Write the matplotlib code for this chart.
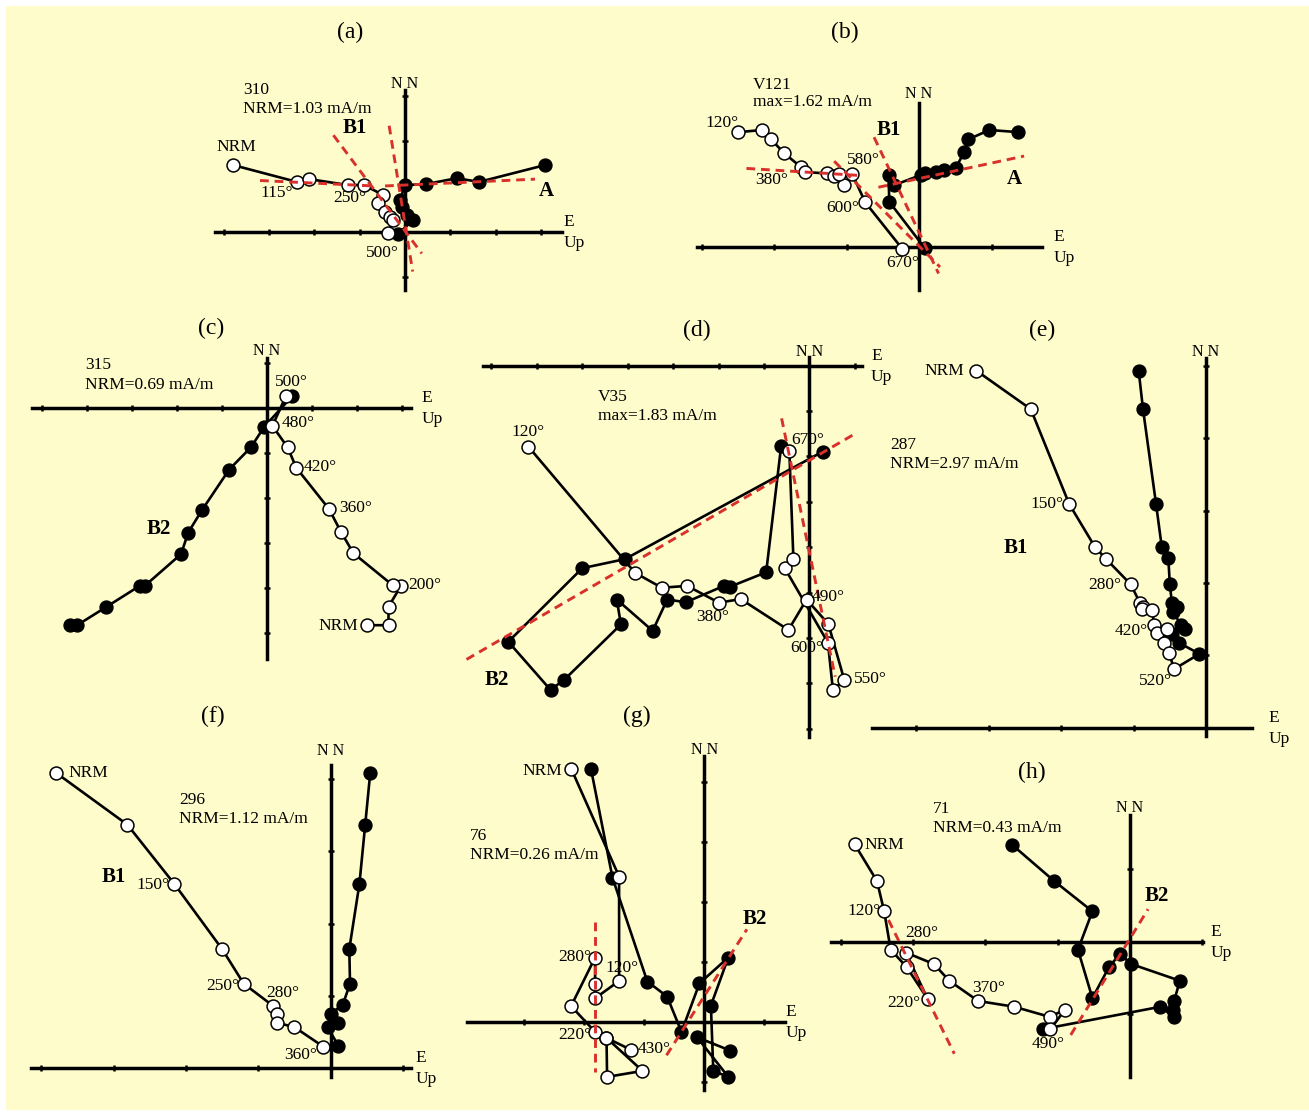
import numpy as np
import matplotlib
matplotlib.use('Agg')
import matplotlib.pyplot as plt
from matplotlib.patches import Rectangle

plt.rcParams['font.family'] = ['Liberation Serif', 'DejaVu Serif']

# --- data: Zijderveld diagrams, values in tick units (open = vertical plane, solid = horizontal plane)
a_open = np.array([(-3.79, 1.47), (-2.39, 1.10), (-2.11, 1.16), (-1.26, 1.03), (-0.91, 1.03), (-0.48, 0.81),
                   (-0.59, 0.63), (-0.44, 0.44), (-0.33, 0.33), (-0.26, 0.26), (-0.37, -0.02)])
a_solid = np.array([(3.09, 1.47), (1.64, 1.10), (1.14, 1.18), (0.46, 1.05), (0.0, 1.03), (-0.11, 0.70),
                    (-0.07, 0.55), (0.04, 0.37), (0.18, 0.26), (-0.15, -0.05)])
a_fits = [((-3.20, 1.13), (-0.70, 1.01)), ((-0.44, 1.01), (2.87, 1.16)),
          ((-1.58, 2.13), (0.37, -0.48)), ((-0.35, 2.34), (0.17, -0.88))]

b_open = np.array([(-2.49, 1.58), (-2.16, 1.61), (-2.04, 1.48), (-1.86, 1.29), (-1.63, 1.10), (-1.57, 1.03),
                   (-1.27, 1.01), (-1.17, 0.97), (-1.03, 0.85), (-1.10, 1.00), (-0.92, 1.00), (-0.74, 0.61),
                   (-0.23, -0.03)])
b_solid = np.array([(1.37, 1.58), (0.97, 1.61), (0.68, 1.48), (0.62, 1.30), (0.51, 1.09), (0.35, 1.06),
                    (0.23, 1.03), (0.08, 1.01), (0.03, 0.99), (-0.34, 0.85), (-0.42, 0.99), (-0.41, 0.62),
                    (0.08, -0.02)])
b_fits = [((-2.38, 1.08), (-0.78, 0.98)), ((-0.56, 0.82), (1.45, 1.25)),
          ((-0.62, 1.51), (0.27, -0.37)), ((-1.17, 1.18), (0.29, -0.28))]

c_open = np.array([(2.23, -4.82), (2.70, -4.82), (2.70, -4.41), (2.98, -3.94), (2.79, -3.93), (1.92, -3.22),
                   (1.64, -2.74), (1.38, -2.24), (0.65, -1.32), (0.46, -0.87), (0.12, -0.39), (0.42, 0.27)])
c_solid = np.array([(-4.38, -4.82), (-4.22, -4.82), (-3.58, -4.42), (-2.82, -3.94), (-2.71, -3.94),
                    (-1.91, -3.24), (-1.75, -2.76), (-1.45, -2.27), (-0.84, -1.36), (-0.36, -0.87),
                    (-0.06, -0.41), (0.56, 0.27)])

d_open = np.array([(-6.19, -1.78), (-3.84, -4.56), (-3.25, -4.89), (-2.69, -4.85), (-1.99, -5.22),
                   (-1.51, -5.14), (-0.46, -5.82), (-0.06, -5.15), (0.42, -5.69), (0.77, -6.92),
                   (0.52, -7.14), (0.41, -6.10), (-0.54, -4.46), (-0.35, -4.26), (-0.44, -1.88)])
d_solid = np.array([(0.30, -1.89), (-4.06, -4.26), (-5.00, -4.46), (-6.63, -6.08), (-5.70, -7.14),
                    (-5.40, -6.92), (-4.15, -5.70), (-4.24, -5.15), (-3.45, -5.84), (-3.13, -5.15),
                    (-2.72, -5.21), (-1.88, -4.85), (-1.75, -4.87), (-0.95, -4.55), (-0.62, -1.77)])
d_fits = [((-7.55, -6.47), (1.04, -1.48)), ((-0.61, -1.16), (0.57, -6.85))]

e_open = np.array([(-3.17, 4.93), (-2.42, 4.40), (-1.89, 3.09), (-1.53, 2.49), (-1.38, 2.33), (-1.04, 1.98),
                   (-0.91, 1.72), (-0.87, 1.67), (-0.89, 1.64), (-0.74, 1.63), (-0.72, 1.42), (-0.67, 1.31),
                   (-0.54, 1.37), (-0.58, 1.17), (-0.51, 1.03), (-0.44, 0.81)])
e_solid = np.array([(-0.93, 4.93), (-0.87, 4.40), (-0.69, 3.09), (-0.61, 2.49), (-0.52, 2.34), (-0.50, 1.98),
                    (-0.47, 1.72), (-0.40, 1.67), (-0.45, 1.60), (-0.35, 1.42), (-0.29, 1.36), (-0.47, 1.30),
                    (-0.37, 1.17), (-0.09, 1.02)])

f_open = np.array([(-3.80, 4.09), (-2.81, 3.37), (-2.16, 2.55), (-1.50, 1.65), (-1.20, 1.17), (-0.79, 0.86),
                   (-0.74, 0.75), (-0.74, 0.63), (-0.50, 0.57), (-0.10, 0.30)])
f_solid = np.array([(0.55, 4.09), (0.48, 3.37), (0.40, 2.55), (0.26, 1.65), (0.27, 1.17), (0.17, 0.88),
                    (0.00, 0.75), (0.11, 0.63), (-0.04, 0.57), (0.11, 0.31)])

g_open = np.array([(-2.22, 4.23), (-1.42, 2.43), (-1.42, 0.69), (-1.82, 0.40), (-1.82, 0.64), (-1.82, 1.08),
                   (-2.22, 0.27), (-1.82, -0.16), (-1.63, -0.26), (-1.03, -0.81), (-1.62, -0.91),
                   (-1.63, -0.26), (-1.22, -0.46)])
g_solid = np.array([(-1.89, 4.23), (-1.53, 2.41), (-0.95, 0.68), (-0.62, 0.43), (-0.38, -0.16), (-0.08, 0.65),
                    (0.40, 1.08), (0.11, 0.28), (0.15, -0.81), (0.40, -0.91), (-0.12, -0.25), (0.43, -0.47)])
g_fits = [((-1.82, 1.68), (-1.82, -0.82)), ((-0.63, -0.55), (0.71, 1.55))]

h_open = np.array([(-3.81, 1.35), (-3.50, 0.84), (-3.40, 0.42), (-3.31, -0.11), (-3.09, -0.35), (-2.80, -0.79),
                   (-3.10, -0.15), (-2.71, -0.31), (-2.50, -0.54), (-2.10, -0.82), (-1.60, -0.90),
                   (-1.11, -1.04), (-0.90, -0.94), (-1.10, -1.21)])
h_solid = np.array([(-1.63, 1.34), (-1.05, 0.84), (-0.52, 0.42), (-0.72, -0.11), (-0.52, -0.78), (-0.29, -0.35),
                    (-0.14, -0.17), (0.02, -0.31), (0.69, -0.54), (0.61, -0.82), (0.60, -0.94), (0.61, -1.04),
                    (0.42, -0.90), (-1.21, -1.21)])
h_fits = [((-3.34, 0.30), (-2.43, -1.55)), ((-0.82, -1.29), (0.25, 0.45))]

W, H = 1309, 1114
RED = '#d8312b'

fig = plt.figure(figsize=(W / 100, H / 100), dpi=100, facecolor='white')
fig.patches.append(Rectangle((6 / W, 4 / H), 1 - 6 / W, 1 - 10 / H, transform=fig.transFigure,
                             facecolor='#fffccc', edgecolor='none', zorder=-10))


def panel(ox, oy, t, hx, vy, hticks, vticks, open_pts, solid_pts, fits=(), notes=(),
          nn_y=None, e_x=None, join=False):
    ax = fig.add_axes([0, 0, 1, 1])
    ax.set_xlim(-ox / t, (W - ox) / t)
    ax.set_ylim((oy - H) / t, oy / t)
    ax.axis('off')

    ax.plot(hx, [0, 0], color='k', lw=2.5, zorder=1)
    ax.plot([0, 0], vy, color='k', lw=2.5, zorder=1)
    ax.plot(hticks, np.zeros(len(hticks)), ls='none', marker='|', ms=5, mew=1.8, color='k', zorder=1)
    ax.plot(np.zeros(len(vticks)), vticks, ls='none', marker='_', ms=5, mew=1.8, color='k', zorder=1)

    ax.plot(solid_pts[:, 0], solid_pts[:, 1], color='k', lw=1.9, marker='o', ms=9.3,
            mfc='k', mec='k', zorder=3)
    ax.plot(open_pts[:, 0], open_pts[:, 1], color='k', lw=1.9, marker='o', ms=9.3,
            mfc='white', mec='k', mew=1.1, zorder=4)
    if join:
        ax.plot([open_pts[-1, 0], solid_pts[-1, 0]], [open_pts[-1, 1], solid_pts[-1, 1]],
                color='k', lw=1.9, zorder=2)
    for p, q in fits:
        ax.plot([p[0], q[0]], [p[1], q[1]], color=RED, lw=2.1, dashes=(3, 2), zorder=5)

    for txt, x, y, ha, kind in notes:
        if kind == 'b':
            ax.text(x, y, txt, ha=ha, va='center', fontsize=15, fontweight='bold', zorder=6)
        else:
            ax.text(x, y, txt, ha=ha, va='center', fontsize=12.5, zorder=6)

    ax.text(0, nn_y, 'N N', ha='center', va='center', fontsize=11.5)
    ax.text(e_x, 10 / t, 'E', ha='left', va='center', fontsize=12.5)
    ax.text(e_x, -11 / t, 'Up', ha='left', va='center', fontsize=12.5)
    return ax


# (a)
panel(405, 231.7, 45.3, (-4.19, 3.47), (-1.29, 3.13), [-4, -3, -2, -1, 1, 2, 3], [-1, 1, 2, 3],
      a_open, a_solid, a_fits,
      [('310', -3.58, 3.13, 'left', 'n'), ('NRM=1.03 mA/m', -3.58, 2.71, 'left', 'n'),
       ('B1', -1.10, 2.29, 'center', 'b'), ('NRM', -3.73, 1.87, 'center', 'n'),
       ('115°', -2.83, 0.85, 'center', 'n'), ('250°', -1.21, 0.74, 'center', 'n'),
       ('500°', -0.51, -0.47, 'center', 'n'), ('A', 3.13, 0.90, 'center', 'b')],
      nn_y=3.26, e_x=3.49)

# (b)
panel(919, 246.7, 72.5, (-3.06, 1.69), (-0.60, 1.98), [-3, -2, -1, 1], [],
      b_open, b_solid, b_fits,
      [('V121', -2.29, 2.23, 'left', 'n'), ('max=1.62 mA/m', -2.29, 2.00, 'left', 'n'),
       ('120°', -2.72, 1.71, 'center', 'n'), ('B1', -0.41, 1.61, 'center', 'b'),
       ('580°', -0.77, 1.19, 'center', 'n'), ('380°', -2.03, 0.92, 'center', 'n'),
       ('600°', -1.05, 0.54, 'center', 'n'), ('670°', -0.22, -0.22, 'center', 'n'),
       ('A', 1.32, 0.94, 'center', 'b')],
      nn_y=2.11, e_x=1.85)

# (c)
panel(267, 408.3, 45, (-5.23, 3.21), (-5.56, 1.11), [-5, -4, -3, -2, -1, 1, 2, 3], [1, -1, -2, -3, -4, -5],
      c_open, c_solid, (),
      [('315', -4.04, 0.96, 'left', 'n'), ('NRM=0.69 mA/m', -4.04, 0.52, 'left', 'n'),
       ('500°', 0.55, 0.59, 'center', 'n'), ('480°', 0.69, -0.33, 'center', 'n'),
       ('420°', 1.18, -1.30, 'center', 'n'), ('360°', 1.96, -2.22, 'center', 'n'),
       ('200°', 3.51, -3.93, 'center', 'n'), ('NRM', 1.59, -4.84, 'center', 'n'),
       ('B2', -2.41, -2.69, 'center', 'b')],
      nn_y=1.28, e_x=3.44)

# (d)
panel(809.3, 365.7, 45.4, (-7.18, 1.15), (-8.17, 0.20), [-7, -6, -5, -4, -3, -2, -1, 1],
      [-1, -2, -3, -4, -5, -6, -7, -8],
      d_open, d_solid, d_fits,
      [('V35', -4.65, -0.68, 'left', 'n'), ('max=1.83 mA/m', -4.65, -1.11, 'left', 'n'),
       ('120°', -6.20, -1.45, 'center', 'n'), ('670°', -0.03, -1.64, 'center', 'n'),
       ('490°', 0.41, -5.09, 'center', 'n'), ('380°', -2.12, -5.53, 'center', 'n'),
       ('600°', -0.05, -6.22, 'center', 'n'), ('550°', 0.98, -6.90, 'left', 'n'),
       ('B2', -6.89, -6.92, 'center', 'b')],
      nn_y=0.31, e_x=1.36)

# (e)
panel(1206, 727.7, 72.4, (-4.62, 0.63), (-0.12, 5.10), [-4, -3, -2, -1], [1, 2, 3, 4, 5],
      e_open, e_solid, (),
      [('287', -4.36, 3.90, 'left', 'n'), ('NRM=2.97 mA/m', -4.36, 3.64, 'left', 'n'),
       ('NRM', -3.62, 4.93, 'center', 'n'), ('150°', -2.20, 3.09, 'center', 'n'),
       ('B1', -2.63, 2.48, 'center', 'b'), ('280°', -1.40, 1.97, 'center', 'n'),
       ('420°', -1.04, 1.33, 'center', 'n'), ('520°', -0.70, 0.64, 'center', 'n')],
      nn_y=5.19, e_x=0.86, join=True)

# (f)
panel(330.5, 1068.3, 72.3, (-4.14, 1.12), (-0.12, 4.19), [-4, -3, -2, -1, 1], [1, 2, 3, 4],
      f_open, f_solid, (),
      [('NRM', -3.63, 4.09, 'left', 'n'), ('296', -2.09, 3.71, 'left', 'n'),
       ('NRM=1.12 mA/m', -2.09, 3.45, 'left', 'n'), ('B1', -2.99, 2.64, 'center', 'b'),
       ('150°', -2.45, 2.53, 'center', 'n'), ('250°', -1.49, 1.14, 'center', 'n'),
       ('280°', -0.66, 1.04, 'center', 'n'), ('360°', -0.42, 0.18, 'center', 'n')],
      nn_y=4.39, e_x=1.17)

# (g)
panel(704.3, 1022.3, 60, (-3.96, 1.35), (-1.13, 4.44), [-3, -2, -1, 1], [-1, 1, 2, 3, 4],
      g_open, g_solid, g_fits,
      [('NRM', -2.70, 4.19, 'center', 'n'), ('76', -3.91, 3.11, 'left', 'n'),
       ('NRM=0.26 mA/m', -3.91, 2.79, 'left', 'n'), ('280°', -2.16, 1.09, 'center', 'n'),
       ('120°', -1.37, 0.90, 'center', 'n'), ('220°', -2.16, -0.21, 'center', 'n'),
       ('430°', -0.84, -0.45, 'center', 'n'), ('B2', 0.85, 1.73, 'center', 'b')],
      nn_y=4.54, e_x=1.36)

# (h)
panel(1130, 941.7, 72.3, (-4.13, 1.01), (-1.87, 1.75), [-4, -3, -2, -1, 1], [1, -1],
      h_open, h_solid, h_fits,
      [('71', -2.73, 1.83, 'left', 'n'), ('NRM=0.43 mA/m', -2.73, 1.57, 'left', 'n'),
       ('NRM', -3.67, 1.34, 'left', 'n'), ('120°', -3.68, 0.42, 'center', 'n'),
       ('280°', -2.88, 0.12, 'center', 'n'), ('220°', -3.13, -0.85, 'center', 'n'),
       ('370°', -1.96, -0.64, 'center', 'n'), ('490°', -1.13, -1.41, 'center', 'n'),
       ('B2', 0.37, 0.63, 'center', 'b')],
      nn_y=1.85, e_x=1.11)

# panel letters
for lab, px, py in [('(a)', 350, 32), ('(b)', 845, 32), ('(c)', 211, 328), ('(d)', 697, 330),
                    ('(e)', 1042, 330), ('(f)', 213, 716), ('(g)', 637, 716), ('(h)', 1032, 772)]:
    fig.text(px / W, 1 - py / H, lab, ha='center', va='center', fontsize=17)

fig.savefig('out.png', dpi=100, facecolor=fig.get_facecolor())
